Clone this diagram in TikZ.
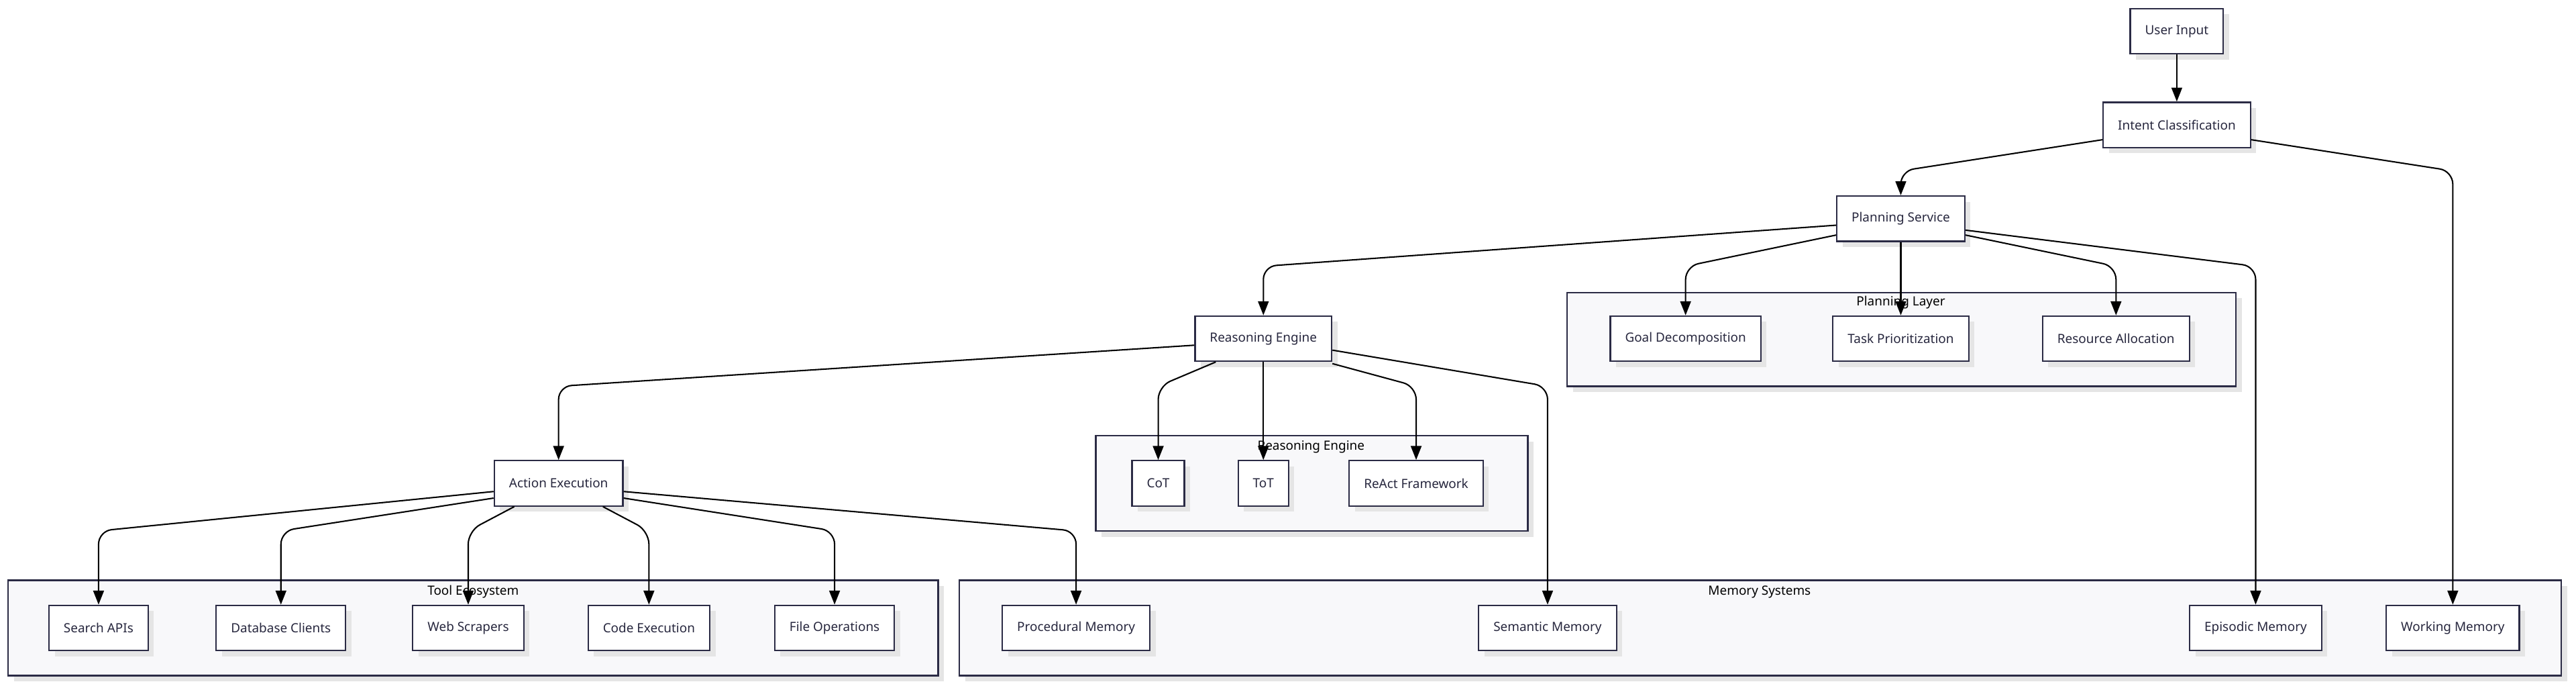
\documentclass[tikz,border=0pt]{standalone}
\usepackage{fontspec}
\setmainfont{Noto Sans}
\usetikzlibrary{arrows.meta,shadows}
\definecolor{bd}{HTML}{2B2B45}
\definecolor{cl}{HTML}{F8F8FA}
\begin{document}
\begin{tikzpicture}[x=0.1cm,y=-0.1cm,
  box/.style={draw=bd,line width=2.6pt,fill=white,minimum height=2.75cm,inner xsep=0.9cm,
    font=\fontsize{22}{26}\selectfont,text=bd!90!black,
    drop shadow={shadow xshift=0.35cm,shadow yshift=-0.35cm,fill=black!10,opacity=1}},
  clus/.style={draw=bd,line width=2.6pt,fill=cl,
    drop shadow={shadow xshift=0.35cm,shadow yshift=-0.35cm,fill=black!10,opacity=1}},
  ctitle/.style={font=\fontsize{22}{26}\selectfont,text=black},
  arr/.style={draw=black,line width=2.4pt,rounded corners=0.8cm,-{Triangle[length=0.85cm,width=0.65cm]}}]
\useasboundingbox (0,0) rectangle (1568,416);
% clusters
\draw[clus] (954,178) rectangle (1361,235);
\node[ctitle] (tpl) at (1157,184) {Planning Layer};
\draw[clus] (667,265) rectangle (930,323);
\node[ctitle] (tre) at (798,272) {Reasoning Engine};
\draw[clus] (5,353) rectangle (571,411);
\node[ctitle] (tte) at (288,360) {Tool Ecosystem};
\draw[clus] (584,353) rectangle (1559,411);
\node[ctitle] (tms) at (1071,360) {Memory Systems};
% nodes
\node[box] (ui) at (1325,19) {User Input};
\node[box] (ic) at (1325,76) {Intent Classification};
\node[box] (ps) at (1157,133) {Planning Service};
\node[box] (re) at (769,206) {Reasoning Engine};
\node[box] (gd) at (1026,206) {Goal Decomposition};
\node[box] (tp) at (1157,206) {Task Prioritization};
\node[box] (ra) at (1288,206) {Resource Allocation};
\node[box] (cot) at (705,294) {CoT};
\node[box] (tot) at (769,294) {ToT};
\node[box] (rf) at (862,294) {ReAct Framework};
\node[box] (ae) at (340,294) {Action Execution};
\node[box] (sa) at (60,382) {Search APIs};
\node[box] (dc) at (171,382) {Database Clients};
\node[box] (ws) at (285,382) {Web Scrapers};
\node[box] (ce) at (395,382) {Code Execution};
\node[box] (fo) at (508,382) {File Operations};
\node[box] (pm) at (655,382) {Procedural Memory};
\node[box] (sm) at (942,382) {Semantic Memory};
\node[box] (em) at (1373,382) {Episodic Memory};
\node[box] (wm) at (1493,382) {Working Memory};
% edges
\draw[arr] (ui) -- (ic);
\draw[arr] ([yshift=-0.9cm]ic.west) -- (ps.north |- 0,104) -- (ps.north);
\draw[arr] ([yshift=-0.9cm]ic.east) -- (wm.north |- 0,104) -- (wm.north);
\draw[arr] ([yshift=-0.4cm]ps.west) -- (re.north |- 0,162) -- (re.north);
\draw[arr] ([yshift=-1.0cm]ps.west) -- (gd.north |- 0,162) -- (gd.north);
\draw[arr] (ps) -- (tp);
\draw[arr] ([yshift=-1.0cm]ps.east) -- (ra.north |- 0,162) -- (ra.north);
\draw[arr] ([yshift=-0.7cm]ps.east) -- (em.north |- 0,162) -- (em.north);
\draw[arr] ([yshift=-0.4cm]re.west) -- (ae.north |- 0,235) -- (ae.north);
\draw[arr] ([xshift=-2.9cm]re.south) -- (cot.north |- 0,235) -- (cot.north);
\draw[arr] (re) -- (tot);
\draw[arr] ([yshift=-0.1cm]re.south east) -- (rf.north |- 0,235) -- (rf.north);
\draw[arr] ([yshift=-0.7cm]re.east) -- (sm.north |- 0,235) -- (sm.north);
\draw[arr] ([yshift=-0.5cm]ae.west) -- (sa.north |- 0,323) -- (sa.north);
\draw[arr] ([yshift=-0.9cm]ae.west) -- (dc.north |- 0,323) -- (dc.north);
\draw[arr] ([xshift=-2.7cm]ae.south) -- (ws.north |- 0,323) -- (ws.north);
\draw[arr] ([xshift=2.7cm]ae.south) -- (ce.north |- 0,323) -- (ce.north);
\draw[arr] ([yshift=-0.9cm]ae.east) -- (fo.north |- 0,323) -- (fo.north);
\draw[arr] ([yshift=-0.5cm]ae.east) -- (pm.north |- 0,323) -- (pm.north);
\end{tikzpicture}
\end{document}
